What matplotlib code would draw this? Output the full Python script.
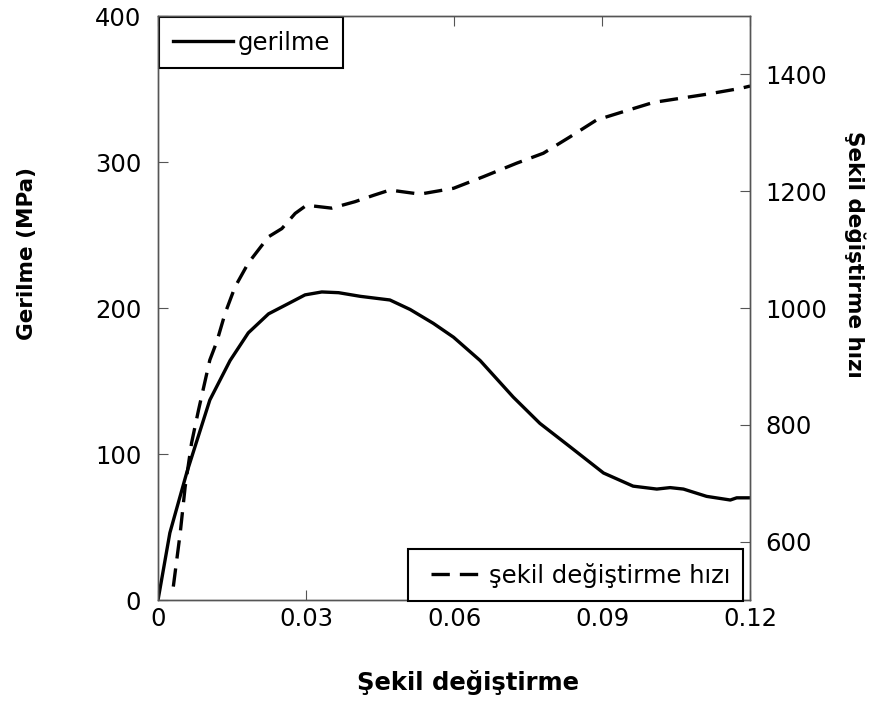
import matplotlib

matplotlib.use("Agg")
import matplotlib.pyplot as plt
from matplotlib.lines import Line2D

plt.rcParams["font.family"] = ["DejaVu Sans"]

# gerilme (MPa) vs sekil degistirme
strain_s = [0, 0.0024, 0.0058, 0.0105, 0.0146, 0.0183, 0.0224, 0.0264, 0.0298,
            0.0332, 0.0366, 0.041, 0.047, 0.0511, 0.0558, 0.0599, 0.0653, 0.072,
            0.0774, 0.0835, 0.0903, 0.0963, 0.1011, 0.1038, 0.1065, 0.1112,
            0.116, 0.1173, 0.12]
stress = [0, 46, 87, 137, 164, 183, 196, 203, 209, 211, 210.5, 208, 205.5, 199,
          189.5, 180, 164, 139, 121, 105, 87, 78, 76, 77, 76, 71, 68.5, 70, 70]

# sekil degistirme hizi vs sekil degistirme
strain_r = [0.0031, 0.0045, 0.0055, 0.0068, 0.0082, 0.0105, 0.0119, 0.0136,
            0.0156, 0.0183, 0.0224, 0.0251, 0.0278, 0.0301, 0.0352, 0.0399,
            0.0437, 0.047, 0.0531, 0.0599, 0.066, 0.0727, 0.0781, 0.0835,
            0.0889, 0.095, 0.1004, 0.1058, 0.1112, 0.118, 0.12]
rate = [523, 615, 694, 769, 825, 911, 942, 991, 1036, 1077, 1122, 1136, 1162,
        1176, 1171, 1182, 1193, 1202, 1195, 1205, 1225, 1248, 1265, 1293, 1322,
        1338, 1352, 1359, 1366, 1376, 1380]

x_ticks = [0, 0.03, 0.06, 0.09, 0.12]
x_labels = ["0", "0.03", "0.06", "0.09", "0.12"]
left_ticks = [0, 100, 200, 300, 400]
right_ticks = [600, 800, 1000, 1200, 1400]

FS = 17.5
FS_V = 15.5  # vertical labels read shorter in the reference
SPINE = "#555555"
LW = 2.4

fig = plt.figure(figsize=(8.76, 7.08), dpi=100)
ax1 = fig.add_axes([0.1804, 0.1525, 0.6758, 0.8249])
ax2 = ax1.twinx()

l1, = ax1.plot(strain_s, stress, color="black", lw=LW, label="gerilme")
ax2.plot(strain_r, rate, color="black", lw=LW, linestyle=(0, (5.5, 3)))

ax1.set_xlim(0, 0.12)
ax1.set_ylim(0, 400)
ax2.set_ylim(500, 1500)
ax1.set_xticks(x_ticks)
ax1.set_xticklabels(x_labels)
ax1.set_yticks(left_ticks)
ax2.set_yticks(right_ticks)

ax1.tick_params(axis="x", direction="in", length=7, labelsize=FS, pad=5,
                top=True, color=SPINE)
ax1.tick_params(axis="y", direction="in", length=7, labelsize=FS, pad=12,
                color=SPINE)
ax2.tick_params(axis="y", direction="in", length=7, labelsize=FS, pad=11,
                color=SPINE)
for ax in (ax1, ax2):
    for sp in ax.spines.values():
        sp.set_color(SPINE)
        sp.set_linewidth(1.0)

# axis labels, placed where the reference has them
xl = ax1.set_xlabel("Şekil değiştirme", fontsize=FS, fontweight="bold")
xl.set_verticalalignment("center")
ax1.xaxis.set_label_coords(0.523, -0.142)
yl = ax1.set_ylabel("Gerilme (MPa)", fontsize=FS_V, fontweight="bold")
yl.set_rotation_mode("default")
yl.set_verticalalignment("center")
ax1.yaxis.set_label_coords(-0.221, 0.594)
yr = ax2.set_ylabel("Şekil değiştirme hızı", fontsize=FS_V, fontweight="bold",
                    rotation=270)
yr.set_rotation_mode("default")
yr.set_verticalalignment("center")
yr.set_horizontalalignment("center")
ax2.yaxis.set_label_coords(1.177, 0.591)

leg1 = ax1.legend(handles=[l1], loc="upper left", fontsize=FS, fancybox=False,
                  edgecolor="black", framealpha=1, borderaxespad=0.05,
                  handlelength=2.47, handletextpad=0.2, borderpad=0.55)
leg1.get_frame().set_linewidth(1.5)

# legend handle starts on a gap, as in the reference
h2 = Line2D([], [], color="black", lw=LW, linestyle=(5.5, (5.5, 3)))
leg2 = ax2.legend(handles=[h2], labels=["şekil değiştirme hızı"],
                  loc="lower right", bbox_to_anchor=(0.9887, -0.0017),
                  fontsize=FS, fancybox=False, edgecolor="black", framealpha=1,
                  borderaxespad=0, handlelength=2.47, handletextpad=0.3,
                  borderpad=0.55)
leg2.get_frame().set_linewidth(1.5)

fig.savefig("out.png", dpi=100)
plt.close(fig)
